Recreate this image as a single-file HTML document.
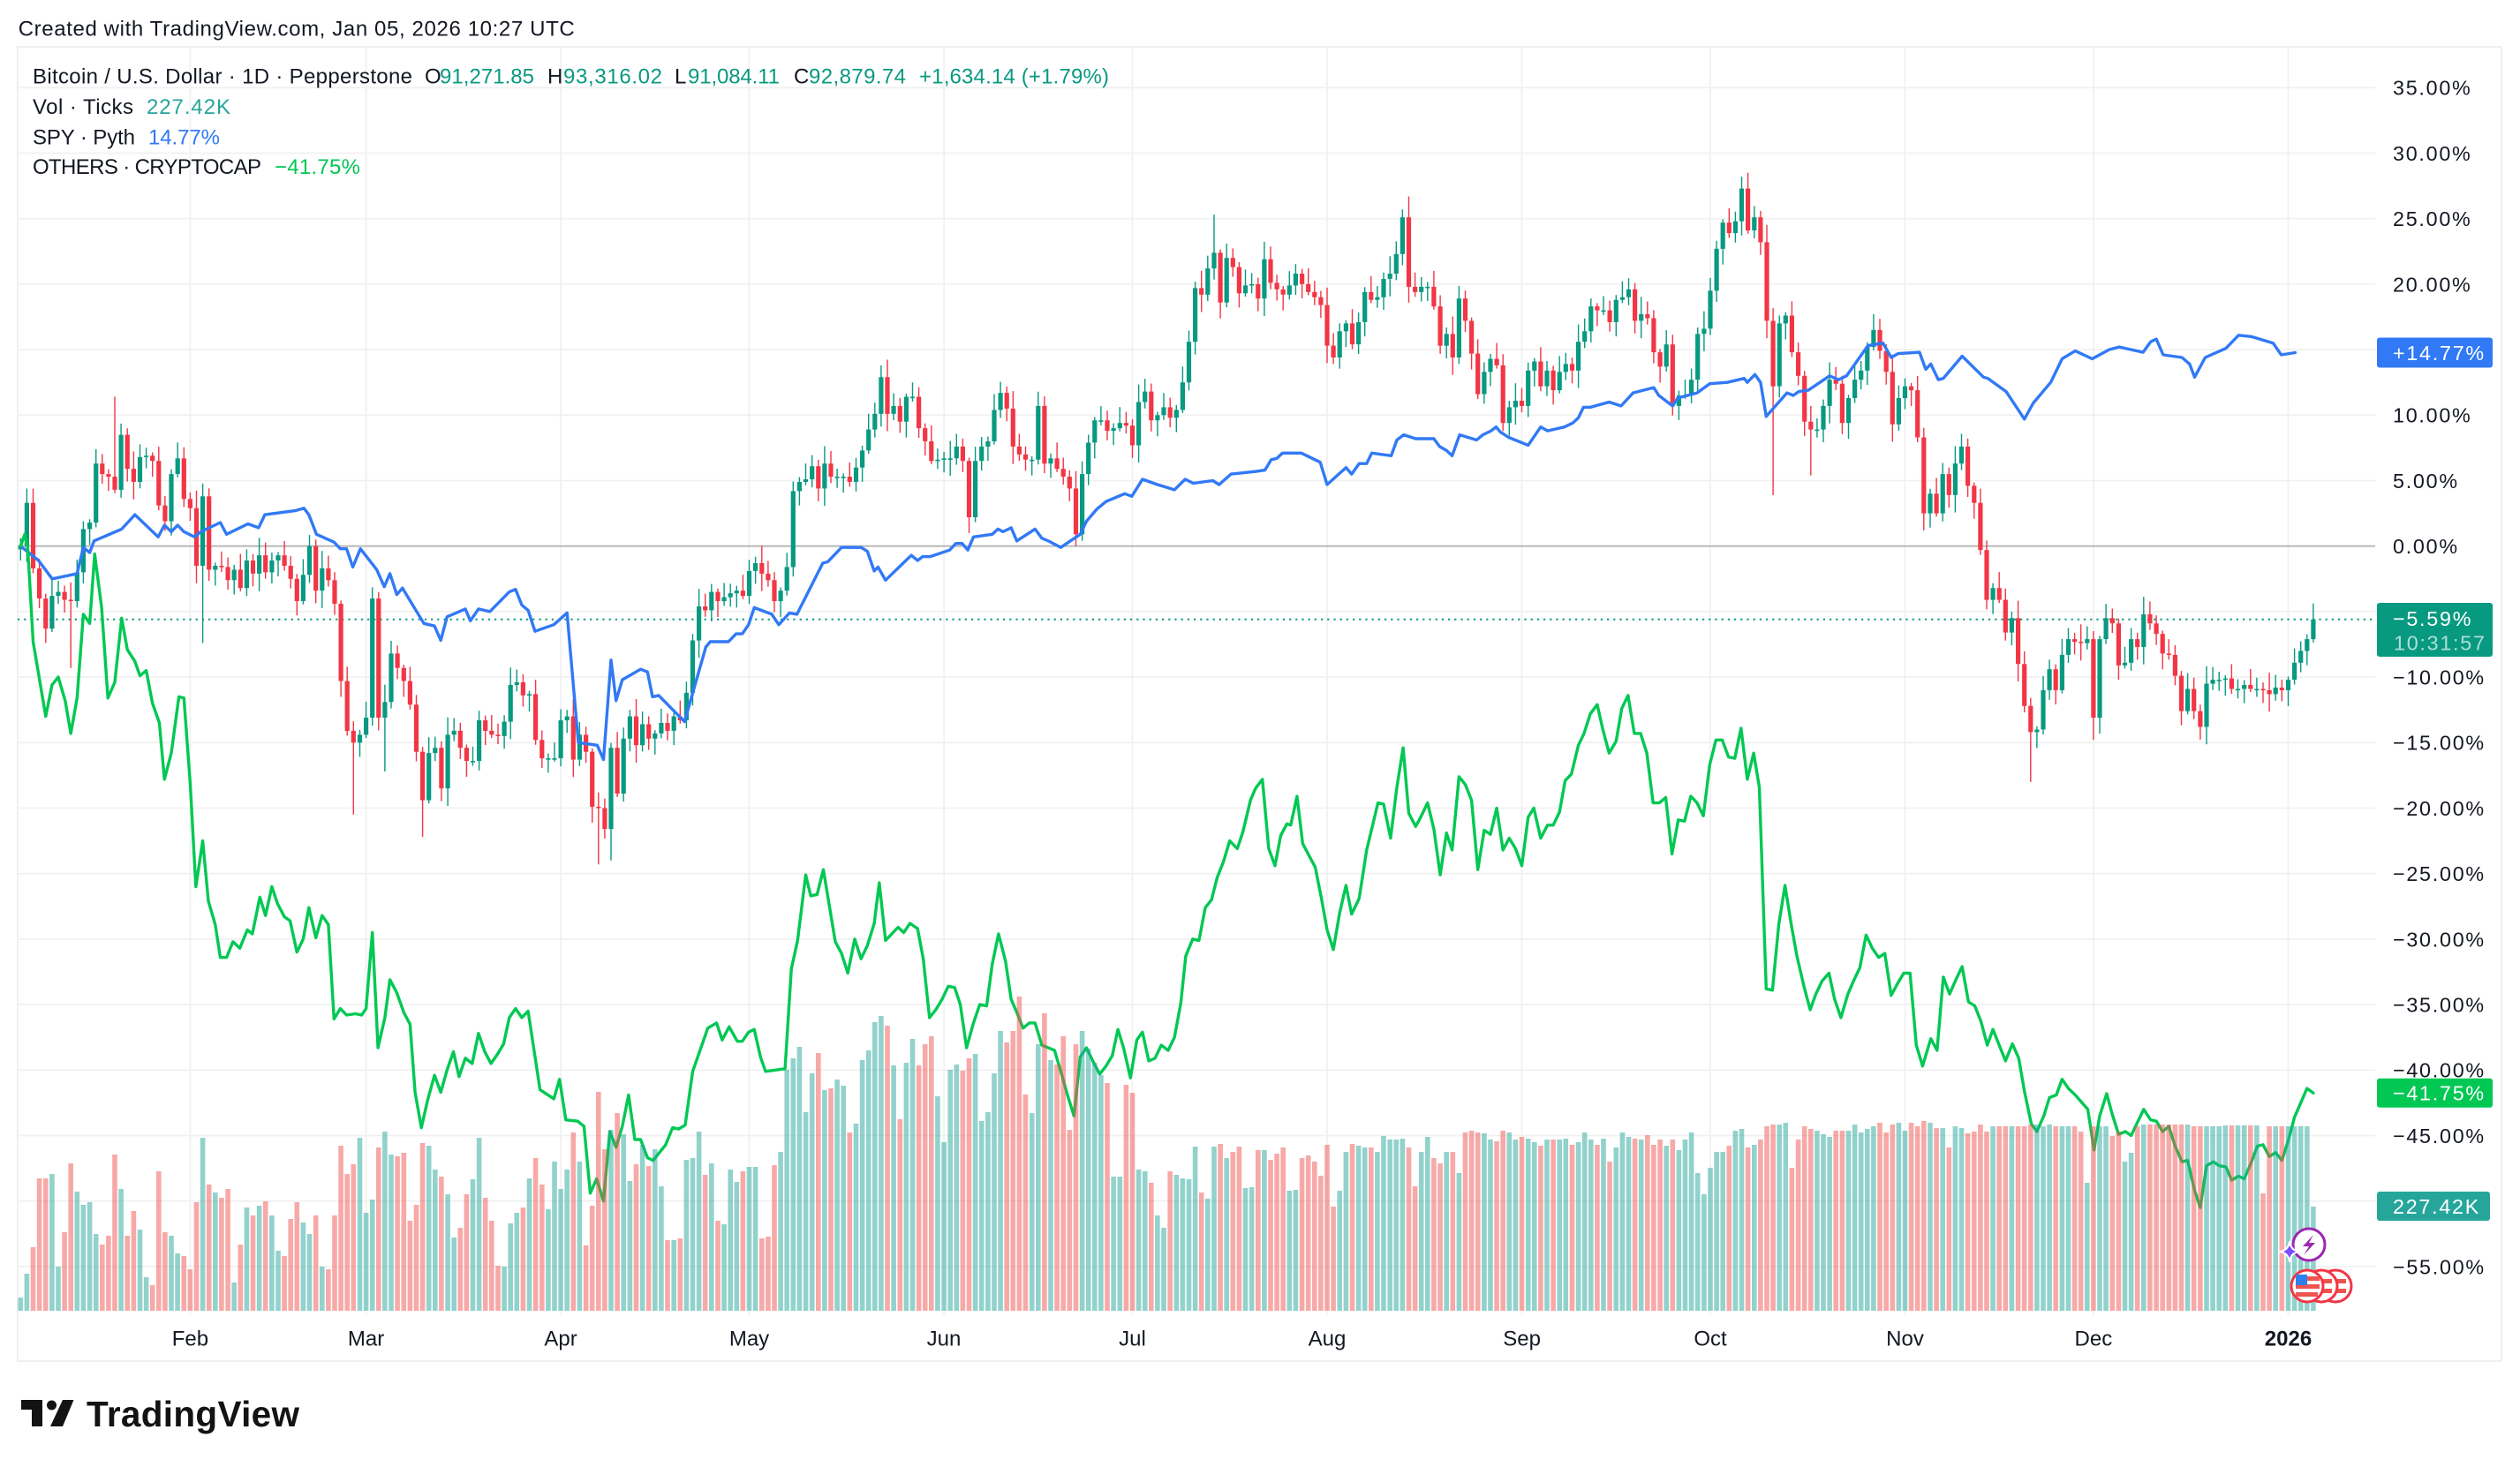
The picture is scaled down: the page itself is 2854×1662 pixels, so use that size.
<!DOCTYPE html>
<html><head><meta charset="utf-8">
<style>
html,body{margin:0;padding:0;background:#fff;}
svg{display:block;}
text{font-family:"Liberation Sans",Arial,sans-serif;}
.ax{font-size:23.3px;letter-spacing:1.75px;fill:#131722;}
.lg{font-size:24px;fill:#131722;}
.tm{font-size:24px;fill:#131722;}
</style></head>
<body>
<svg id="c" width="2854" height="1662" viewBox="0 0 2854 1662" xmlns="http://www.w3.org/2000/svg">
<rect width="2854" height="1662" fill="#fff"/>
<text class="lg" x="20.7" y="40.6" textLength="630">Created with TradingView.com, Jan 05, 2026 10:27 UTC</text>
<rect x="20" y="53" width="2813" height="1489" fill="none" stroke="#efefef" stroke-width="2"/>
<g id="grid"></g>
<g id="cand"></g>
<g id="lines"></g>
<g id="vol"></g>
<g id="legend">
<text class="lg" x="37" y="94.6" textLength="430">Bitcoin / U.S. Dollar · 1D · Pepperstone</text>
<text class="lg" x="481" y="94.6" textLength="15">O</text><text class="lg" x="498" y="94.6" textLength="107" style="fill:#089981">91,271.85</text>
<text class="lg" x="620" y="94.6" textLength="15">H</text><text class="lg" x="638" y="94.6" textLength="112" style="fill:#089981">93,316.02</text>
<text class="lg" x="764" y="94.6" textLength="12">L</text><text class="lg" x="779" y="94.6" textLength="104" style="fill:#089981">91,084.11</text>
<text class="lg" x="899" y="94.6" textLength="14">C</text><text class="lg" x="916" y="94.6" textLength="110" style="fill:#089981">92,879.74</text>
<text class="lg" x="1041" y="94.6" textLength="215" style="fill:#089981">+1,634.14 (+1.79%)</text>
<text class="lg" x="37" y="129.2" textLength="114">Vol · Ticks</text>
<text class="lg" x="166" y="129.2" textLength="95" style="fill:#26a69a">227.42K</text>
<text class="lg" x="37" y="163.6" textLength="116">SPY · Pyth</text>
<text class="lg" x="168" y="163.6" textLength="81" style="fill:#3179f5">14.77%</text>
<text class="lg" x="37" y="197" textLength="259">OTHERS · CRYPTOCAP</text>
<text class="lg" x="311" y="197" textLength="97" style="fill:#00c853">−41.75%</text>
</g>
<g id="axis"></g>
<g id="time">
<text class="tm" x="215.4" y="1524.5" text-anchor="middle">Feb</text>
<text class="tm" x="414.6" y="1524.5" text-anchor="middle">Mar</text>
<text class="tm" x="635.1" y="1524.5" text-anchor="middle">Apr</text>
<text class="tm" x="848.5" y="1524.5" text-anchor="middle">May</text>
<text class="tm" x="1069" y="1524.5" text-anchor="middle">Jun</text>
<text class="tm" x="1282.5" y="1524.5" text-anchor="middle">Jul</text>
<text class="tm" x="1503" y="1524.5" text-anchor="middle">Aug</text>
<text class="tm" x="1723.6" y="1524.5" text-anchor="middle">Sep</text>
<text class="tm" x="1937" y="1524.5" text-anchor="middle">Oct</text>
<text class="tm" x="2157.5" y="1524.5" text-anchor="middle">Nov</text>
<text class="tm" x="2370.9" y="1524.5" text-anchor="middle">Dec</text>
<text class="tm" x="2591.5" y="1524.5" text-anchor="middle" font-weight="bold">2026</text>
</g>
<!-- icons -->
<g>
<circle cx="2615" cy="1410" r="18" fill="#fff" stroke="#9c27b0" stroke-width="3"/>
<polygon points="2620,1399 2608,1412 2615,1412 2609,1422 2622,1408 2615,1408" fill="#9c27b0"/>
<path d="M2593,1406 Q2594,1417 2605,1418 Q2594,1419 2593,1430 Q2592,1419 2581,1418 Q2592,1417 2593,1406Z" fill="#7c4dff" stroke="#fff" stroke-width="2"/>
<g>
<circle cx="2645" cy="1457" r="18" fill="#fff" stroke="#f23645" stroke-width="3"/>
<rect x="2633" y="1449" width="24" height="5" fill="#ef5350"/><rect x="2633" y="1460" width="24" height="5" fill="#ef5350"/>
<circle cx="2629" cy="1457" r="18" fill="#fff" stroke="#f23645" stroke-width="3"/>
<rect x="2617" y="1449" width="24" height="5" fill="#ef5350"/><rect x="2617" y="1460" width="24" height="5" fill="#ef5350"/>
<circle cx="2613" cy="1457" r="18" fill="#fff" stroke="#f23645" stroke-width="3"/>
<rect x="2600" y="1446" width="27" height="5" fill="#ef5350"/><rect x="2600" y="1455" width="27" height="5" fill="#ef5350"/><rect x="2600" y="1464" width="25" height="5" fill="#ef5350"/>
<rect x="2600" y="1444" width="13" height="12" fill="#2f80ed"/>
</g>
</g>
<!-- logo -->
<g fill="#131313">
<path d="M24,1586 H48 V1616 H36 V1597 H24 Z"/>
<circle cx="58.5" cy="1592" r="5.5"/>
<polygon points="71,1586 83.5,1586 71,1616 57,1616"/>
<text x="98" y="1616" font-size="40.5" font-weight="bold" style="fill:#131313" textLength="241">TradingView</text>
</g>
</svg>
<script>
(function(){
var X0=23.3,DX=7.114,Y0=618.7,K=14.84;
function xd(d){return X0+d*DX;}
function yp(p){return Y0-p*K;}
function f(v){return v.toFixed(1);}
var C=[0,3.3,-1.7,-4,-6.3,-3.8,-3.5,-4.1,-4.2,-2,
1.3,1.8,6.3,5.5,5.3,4.3,8.5,5.9,4.9,6.8,
6.9,6.5,3.1,1.9,5.5,6.7,3.6,2.9,-1.5,3.8,
-1.8,-1.5,-1.6,-2.6,-1.8,-3.2,-1.1,-2.1,-0.7,-2,
-1.1,-0.7,-1.5,-2.5,-4.2,-2.2,0,-3.4,-1.7,-2.6,
-4.4,-10.3,-14.1,-15,-14.4,-13.1,-4,-13.1,-11.9,-8.2,
-9.3,-10.3,-12.1,-15.7,-19.4,-15.8,-15.4,-18.5,-14.4,-14.1,
-15.4,-16.4,-16.4,-13.3,-14.1,-14.4,-14.5,-13.4,-10.6,-10.4,
-11.4,-11.3,-14.8,-16.2,-16.2,-16.2,-13.3,-13,-16.3,-14.4,
-15.7,-19.9,-20,-21.6,-15.4,-18.9,-14.7,-13,-15.2,-13.6,
-14.7,-14.3,-13.5,-14.1,-13,-13.3,-11.2,-7.2,-4.6,-4.9,
-3.5,-4.2,-3.9,-3.6,-3.4,-3.8,-1.9,-1.3,-2.1,-2.6,
-4.2,-3.4,-1.6,4.2,4.9,5.1,6.1,4.4,6.3,5.3,
5.3,5.3,4.9,6,7.3,8.9,10.1,12.9,10.1,10.7,
9.5,11.4,11.4,9,8,6.5,6.6,6.7,6.7,7.6,
6.5,2.2,6.5,7.6,8,10.4,11.7,10.5,7.6,7,
6.6,6.6,10.7,6.3,6.7,5.9,5.3,4.4,0.9,5.5,
7.9,9.6,9.6,8.8,9,9.4,9.2,7.7,11,11.8,
9.6,10,10.6,9.8,10.4,12.5,15.6,19.7,19.2,21.2,
22.4,18.6,22,21.3,19.3,19.9,20,18.9,21.9,20.1,
19.6,19.2,19.9,20.8,20,19.4,19,18.4,15.3,14.4,
16.4,17,15.4,17.1,19.4,18.8,19,20.4,20.8,22.3,
25.1,19.8,19.4,19.8,19.8,18.3,15.3,16.2,14.4,18.9,
17.2,14.7,11.6,13.3,14.3,13.8,9.4,10.6,11.1,10.7,
13.4,14.1,12.2,13.4,11.9,13.3,13.9,13.4,15.6,16.4,
18.3,18,18,17.1,18.8,19,19.6,17.2,17.7,17.4,
14.8,13.7,15.4,10.7,11.5,11.5,12.7,16.2,16.6,19.5,
22.7,24.7,23.9,24.8,27.3,24.1,25.1,23.2,17.2,12.2,
17,17.6,14.8,13,9.5,8.9,8.9,10.7,12.7,12.4,
9.4,11.3,12.7,13.4,15.2,16.5,14.9,13.3,9.3,11.3,
12.2,11.9,8.3,2.5,4,2.5,5.5,3.9,6.3,7.6,
4.6,3.3,-0.3,-4.1,-3.2,-4.1,-6.6,-5.5,-9,-12.2,
-14.2,-14,-11,-9.4,-11,-8.3,-7.1,-7.3,-7.4,-7.1,
-13.1,-7.1,-5.5,-5.9,-9.1,-8.9,-7.1,-7.7,-5.2,-5.9,
-6.7,-8.2,-8.3,-9.9,-12.6,-10.9,-12.6,-13.8,-10.5,-10.2,
-10.2,-10.1,-10.9,-10.9,-10.6,-10.9,-10.9,-11,-11.3,-10.8,
-11,-10.2,-8.9,-8,-7.1,-5.59];
var V=[15,42,72,150,150,155,50,89,167,135,
120,123,87,75,85,177,138,85,113,92,
38,29,158,89,85,65,62,47,123,196,
143,134,128,138,32,75,117,108,119,124,
108,68,62,104,123,100,87,108,50,47,
108,187,155,166,196,111,126,185,203,177,
175,179,102,120,190,187,160,152,132,83,
94,132,149,196,128,102,51,50,99,111,
117,150,173,143,115,169,138,160,202,169,
74,119,248,183,205,224,200,147,166,188,
164,183,141,80,80,82,171,173,203,154,
167,102,98,160,146,158,163,163,82,84,
165,180,273,286,299,225,269,292,250,252,
262,255,202,212,284,295,327,334,323,278,
217,281,308,278,302,311,243,191,273,279,
272,286,291,215,225,269,317,304,317,356,
245,224,302,337,284,279,311,205,302,317,
297,281,267,258,152,152,256,247,160,158,
145,108,94,158,154,150,149,186,134,127,
186,189,173,180,186,139,140,
182,182,171,178,185,136,137,173,176,169,
153,188,118,136,180,189,187,185,185,180,
198,194,194,195,185,141,180,197,173,167,
180,180,156,202,204,202,201,194,192,204,
202,194,197,195,191,187,194,194,194,195,
188,191,202,194,188,195,169,185,202,197,
195,194,199,188,194,187,194,182,194,202,
156,132,162,180,180,187,204,206,185,188,
194,209,211,211,213,162,194,209,206,204,
200,197,204,204,204,211,202,206,209,213,
202,211,213,204,213,209,215,
213,207,207,185,209,207,201,203,211,203,
209,209,209,209,209,209,211,211,209,211,
209,209,209,209,203,145,209,209,209,198,
203,169,179,209,211,211,211,211,211,211,
211,211,209,209,209,209,209,210,210,210,
210,210,210,133,209,209,209,209,209,209,
209,118];
var OV={1:[4.4,null],8:[null,-9.3],15:[11.4,null],29:[null,-7.4],53:[null,-20.5],58:[null,-17.2],64:[null,-22.2],92:[null,-24.3],94:[null,-24],137:[13.8,null],168:[null,0],190:[25.3,null],221:[26.7,null],274:[28.2,null],279:[null,3.9],285:[null,5.4],303:[null,1.2],320:[null,-18],330:[null,-14.8]};
var SPY=[0,0,2.85,-1.1,5.03,-2.5,9,-2.1,10,-0.1,11,-0.5,11.7,0.4,16.1,1.3,18.2,2.4,21.9,0.7,22.9,1.6,24,1.1,25,1.6,26,1.1,27.7,0.7,28.7,1.1,31.8,1.8,32.8,0.9,36.2,1.7,37.9,1.4,38.9,2.4,43.7,2.7,45.1,2.9,45.9,2.4,47.1,0.9,49.9,0.3,50.9,-0.2,51.9,-0.2,52.9,-1.6,54.1,-0.2,56.7,-1.8,57.9,-3.1,58.8,-2.1,59.9,-3.7,60.8,-3.2,64.2,-5.9,65.9,-6.1,66.9,-7.2,67.9,-5.4,70.8,-4.8,71.6,-5.7,72.9,-4.8,74.7,-5,77.8,-3.5,78.8,-3.3,79.8,-4.5,80.8,-4.9,81.9,-6.5,84.9,-6,87,-5.1,88.8,-15,91.8,-15.2,92.8,-16.3,94,-8.7,94.8,-11.8,95.8,-10.2,98.7,-9.4,99.8,-9.6,100.6,-11.5,101.6,-11.4,105.7,-13.4,109.1,-7.7,109.8,-7.3,112.7,-7.3,113.9,-6.7,114.9,-6.7,115.9,-6,116.8,-4.7,119.6,-5.2,120.7,-6,122.4,-5.1,123.6,-5.2,127.7,-1.3,128.5,-1.2,130.7,-0.1,133.8,-0.1,134.8,-0.4,135.9,-1.9,136.5,-1.6,137.7,-2.6,141.8,-0.7,142.8,-1.1,143.6,-0.8,144.8,-0.8,147.9,-0.3,148.9,0.2,149.9,0.2,150.8,-0.3,151.7,0.7,154.7,0.9,155.6,1.3,156.4,1.1,157.7,1.4,158.6,0.4,161.5,1.3,162.6,0.6,163.6,0.4,165.6,-0.1,168.7,0.9,169.7,1.9,171.3,2.8,172.8,3.4,175.8,4,176.9,3.8,178.6,5.1,181,4.7,183.7,4.3,185.4,5.1,186.7,4.8,189.8,5,190.8,4.7,192.7,5.5,196.7,5.7,198.1,5.8,199.1,6.6,200,6.7,200.9,7.1,203.9,7.1,206.9,6.4,208,4.7,211,6,211.9,5.5,213.1,6.3,214.3,6.3,215.1,7.1,218.2,6.9,219.1,8.1,220.2,8.5,222.1,8.2,225,8.2,225.9,7.6,227,7.3,227.9,6.9,229.1,8.5,231.8,8.1,232.8,8.5,234.1,8.8,234.9,9.1,235.6,8.7,236.9,8.3,240,7.7,242,9.1,243.1,8.8,245.8,9.1,247.1,9.4,248,9.8,248.8,10.6,249.9,10.6,252.9,11,254.8,10.7,256.7,11.7,260,12.1,260.8,11.5,263,10.7,263.8,11.3,266.9,11.7,268.9,12.4,271.7,12.5,274.4,12.8,274.9,12.5,276.1,13.1,277,12.5,277.9,9.9,281.2,11.7,282.2,11.5,283.1,11.8,284.6,11.9,288,13,289.4,12.7,290.7,13,294.1,15.3,296.5,15.5,297.8,14.4,298.9,14.7,302.3,14.8,303.3,13.5,304.1,13.9,305.3,12.7,306.1,12.8,309.1,14.5,312.5,12.9,313.2,12.8,316.1,11.8,319,9.7,320.4,10.9,323.2,12.5,325,14.3,327.1,14.9,329.8,14.3,332.5,15,334.1,15.2,337.9,14.8,339.1,15.6,340,15.8,341.1,14.6,344.1,14.4,345.3,13.9,346.1,12.9,347.8,14.4,351.1,15.1,353.1,16.1,355.1,16,358.6,15.5,359.9,14.6,362.1,14.77];
var OTH=[0,0,0.67,0.9,1.15,-0.2,2,-7.3,4,-13,5,-10.6,6,-10,7.1,-11.8,8,-14.3,9,-11.6,10,-5.2,11,-5.9,11.8,-0.6,12.9,-4.7,13.9,-11.6,15,-10.4,16.1,-5.5,17,-7.9,18.2,-8.8,19,-9.9,20,-9.5,21,-12,22.1,-13.5,22.9,-17.8,24,-15.8,25.2,-11.5,26,-11.6,27,-18.1,27.9,-26,29,-22.5,29.9,-27.1,31,-28.9,31.8,-31.4,32.8,-31.4,33.8,-30.2,34.9,-30.7,36.1,-29.3,36.9,-29.6,38.1,-26.8,39,-28.2,40,-26,40.9,-27.3,42,-28.3,42.9,-28.6,44,-31,45,-30,45.9,-27.6,47,-29.9,48,-28.2,49,-28.9,49.9,-36.1,50.9,-35.3,51.9,-35.8,53.3,-35.7,54.3,-35.8,55,-35.3,56,-29.5,56.9,-38.3,58,-36,58.8,-33.1,59.9,-34.1,61,-35.6,62,-36.5,62.8,-41.7,63.8,-44.4,64.8,-42.3,65.9,-40.4,66.9,-41.7,67.9,-40,68.9,-38.6,69.8,-40.5,70.8,-39.1,71.9,-39.5,72.9,-37.2,73.9,-38.6,74.9,-39.5,75.9,-38.8,76.9,-38,77.8,-36,78.8,-35.3,79.8,-36,80.8,-35.5,82.7,-41.5,84.9,-42.2,85.8,-40.7,86.8,-43.8,88.7,-43.9,89.7,-44.3,90.7,-49.4,91.7,-48.3,92.8,-50,93.8,-44.7,94.8,-45.9,95.8,-44.3,96.8,-41.9,97.8,-45.3,98.7,-45.3,99.8,-46.7,100.7,-46.9,102.7,-45.7,103.8,-44.4,104.8,-44.5,105.8,-44.2,107,-40.1,109.4,-36.8,110.8,-36.4,111.7,-37.7,112.8,-36.7,114.1,-37.8,114.9,-37.8,115.9,-37.1,116.8,-36.9,117.8,-39,118.6,-40.1,121.7,-39.9,122.7,-32.3,123.7,-30.1,125,-25.1,125.8,-26.7,126.8,-26.6,127.8,-24.7,129.7,-30.2,130.7,-31.1,131.7,-32.6,132.8,-30,133.8,-31.5,134.8,-30.5,135.9,-28.8,136.7,-25.7,137.7,-30.1,138.7,-29.6,139.7,-29.1,140.6,-29.5,141.6,-28.8,142.8,-29.2,143.7,-31.5,144.7,-36,145.7,-35.4,146.7,-34.6,147.7,-33.6,148.7,-33.7,149.6,-35,150.6,-38.3,151.7,-36.4,152.7,-35,153.8,-35.1,154.7,-31.9,155.7,-29.6,156.8,-31.7,157.7,-34.6,158.6,-35.6,159.6,-36.8,160.6,-36.4,161.5,-36.4,162.6,-38.1,163.6,-38.3,164.6,-38.5,165.6,-40.1,166.6,-41.8,167.7,-43.5,168.7,-39,169.7,-38.3,170.9,-39.5,171.8,-40.3,172.8,-39.7,173.8,-38.9,174.7,-36.9,175.6,-38.3,176.7,-40.6,177.7,-37.7,178.6,-37.1,179.6,-39.3,180.6,-39.1,181.6,-38.1,182.7,-38.5,183.7,-37.5,184.7,-34.9,185.5,-31.3,186.6,-30,187.6,-30.1,188.6,-27.6,189.6,-27,190.5,-25.3,191.5,-24.1,192.5,-22.5,193.7,-23.1,194.6,-21.8,195.8,-19.4,196.6,-18.5,197.7,-17.8,198.7,-23.1,199.7,-24.4,200.6,-22.1,201.6,-21.2,202.2,-21.3,203.2,-19.1,204.1,-22.7,205.2,-23.7,206.1,-24.5,207.1,-26.9,208,-29.3,209,-30.8,210,-28,211,-25.9,211.9,-28.1,213.1,-26.9,214.3,-23.2,216.1,-19.6,217,-19.7,218.1,-22.3,219.1,-18.4,220.1,-15.4,221,-20.4,222.1,-21.4,223,-20.6,224,-19.6,225,-21.6,226,-25.1,227,-21.9,227.9,-23.2,229,-17.6,230,-18.2,231,-19.4,232,-24.7,233,-21.7,234,-22,235,-20,236,-23.2,237,-22.3,238,-23.1,239,-24.4,240,-20.7,240.9,-20,242,-22.3,243.1,-21.3,244,-21.3,245,-20.3,245.9,-17.9,246.9,-17.4,248,-15.2,248.9,-14.3,249.9,-12.8,251,-12.1,251.9,-14,252.9,-15.8,254,-14.9,254.9,-12.4,255.9,-11.4,256.9,-14.3,257.9,-14.3,258.9,-15.8,259.9,-19.6,260.9,-19.6,261.9,-19.2,262.9,-23.5,263.9,-20.9,264.9,-21,265.9,-19.1,266.9,-19.6,267.9,-20.6,268.9,-16.7,269.9,-14.8,270.9,-14.8,271.9,-16.1,272.9,-16.2,273.9,-13.9,274.9,-17.8,275.9,-15.8,276.8,-18.4,277.9,-33.8,278.9,-33.9,279.9,-28.9,280.9,-25.9,281.9,-28.9,282.8,-31.3,283.9,-33.6,284.9,-35.4,285.8,-34.2,286.8,-33.2,287.9,-32.6,288.8,-34.6,289.8,-36,290.9,-34.2,291.8,-33.2,292.8,-32.2,293.8,-29.7,294.8,-30.7,295.8,-31.4,296.8,-31.1,297.8,-34.3,298.8,-33.4,299.8,-32.6,300.8,-32.6,301.8,-38.1,302.8,-39.7,304.1,-37.6,305.1,-38.5,306.1,-32.9,307.1,-34.2,308.1,-33.1,309.1,-32.1,310.1,-34.8,311.1,-35.1,312.1,-36.3,313.1,-38.1,314,-36.9,315,-38.1,316,-39.3,317.1,-38,318.1,-39.1,319,-41.6,320.1,-44.1,321,-44.7,322.1,-43.5,323,-42.1,324.1,-41.9,325,-40.7,326,-41.4,327.1,-41.9,328,-42.4,329.1,-43,330.1,-46.1,331,-43.5,332.1,-41.8,333,-43.4,334,-44.9,335.1,-44.7,336,-45,337.1,-43.9,338,-43,339.1,-43.8,340,-43.9,341,-44.7,342,-44.3,343,-45.8,344.1,-47,345,-46.9,346.1,-49.2,347,-50.5,348,-47.3,349.1,-47,350,-47.3,351.1,-47.4,352,-48.4,353.1,-48.1,354,-48.3,355,-47.2,356.1,-45.8,357,-45.7,358,-46.6,359,-46.3,360,-46.9,361,-45.4,362,-43.6,363,-42.5,364,-41.4,365,-41.75];

var g='';
for(var p=35;p>=-55;p-=5){ if(p===0) continue; var y=f(yp(p)); g+='<line x1="20" x2="2690" y1="'+y+'" y2="'+y+'" stroke="#f1f1f1" stroke-width="1.8"/>'; }
var months=[27,55,86,116,147,177,208,239,269,300,330,361];
months.forEach(function(d){var x=f(xd(d)); g+='<line x1="'+x+'" x2="'+x+'" y1="54" y2="1490" stroke="#f1f1f1" stroke-width="1.8"/>';});
g+='<line x1="20" x2="2690" y1="'+f(yp(0))+'" y2="'+f(yp(0))+'" stroke="#b5b5b5" stroke-width="1.8"/>';
var ly=f(yp(-5.59));
g+='<line x1="20" x2="2690" y1="'+ly+'" y2="'+ly+'" stroke="#089981" stroke-width="2" stroke-dasharray="2.2 5"/>';
document.getElementById('grid').innerHTML=g;

var s='', vs='';
for(var i=0;i<C.length;i++){
  var o=(i===0)?-0.25:C[i-1], c=C[i];
  var up=c>=o;
  var w1=0.25+((i*7+3)%10)*0.12, w2=0.25+((i*13+5)%10)*0.12;
  var hi=Math.max(o,c)+w1, lo=Math.min(o,c)-w2;
  if(OV[i]){ if(OV[i][0]!==null) hi=OV[i][0]; if(OV[i][1]!==null) lo=OV[i][1]; }
  var col=up?'#089981':'#f23645';
  var x=xd(i);
  var yt=yp(Math.max(o,c)), yb=yp(Math.min(o,c));
  var bh=Math.max(yb-yt,1.6);
  s+='<rect x="'+f(x-0.7)+'" y="'+f(yp(hi))+'" width="1.4" height="'+f(yp(lo)-yp(hi))+'" fill="'+col+'"/>';
  s+='<rect x="'+f(x-2.6)+'" y="'+f(yt)+'" width="5.2" height="'+f(bh)+'" fill="'+col+'"/>';
  var vh=V[i]||0;
  vs+='<rect x="'+f(x-2.8)+'" y="'+f(1485-vh)+'" width="5.6" height="'+f(vh)+'" fill="'+(up?'rgba(38,166,154,0.5)':'rgba(239,83,80,0.5)')+'"/>';
}
document.getElementById('cand').innerHTML=s;
document.getElementById('vol').innerHTML=vs;

function pl(arr,color){
  var pts=[];
  for(var k=0;k<arr.length;k+=2){ pts.push(f(xd(arr[k]))+','+f(yp(arr[k+1]))); }
  return '<polyline points="'+pts.join(' ')+'" fill="none" stroke="'+color+'" stroke-width="3.4" stroke-linejoin="round" stroke-linecap="round"/>';
}
document.getElementById('lines').innerHTML=pl(SPY,'#3179f5')+pl(OTH,'#00c853');

var a='';
var labs=[35,30,25,20,10,5,0,-10,-15,-20,-25,-30,-35,-40,-45,-55];
labs.forEach(function(p){
  var t=(p<0?'\u2212':'')+Math.abs(p).toFixed(2)+'%';
  a+='<text class="ax" x="2710" y="'+f(yp(p)+8.4)+'">'+t+'</text>';
});
function box(yc,h,color){ return '<rect x="2692" y="'+f(yc-h/2)+'" width="131" height="'+h+'" rx="3" fill="'+color+'"/>'; }
a+=box(yp(14.77),34,'#3179f5');
a+='<text class="ax" x="2710" y="'+f(yp(14.77)+8.4)+'" style="fill:#fff">+14.77%</text>';
a+='<rect x="2692" y="683" width="131" height="61" rx="3" fill="#089981"/>';
a+='<text class="ax" x="2710" y="709.2" style="fill:#fff">\u22125.59%</text>';
a+='<text class="ax" x="2711" y="736.6" style="fill:rgba(255,255,255,0.68)">10:31:57</text>';
a+=box(yp(-41.75),33,'#00c853');
a+='<text class="ax" x="2710" y="'+f(yp(-41.75)+8.4)+'" style="fill:#fff">\u221241.75%</text>';
a+='<rect x="2692" y="1350" width="128" height="33" rx="3" fill="#26a69a"/>';
a+='<text class="ax" x="2710" y="1374.9" style="fill:#fff">227.42K</text>';
document.getElementById('axis').innerHTML=a;
})();
</script>
</body></html>
